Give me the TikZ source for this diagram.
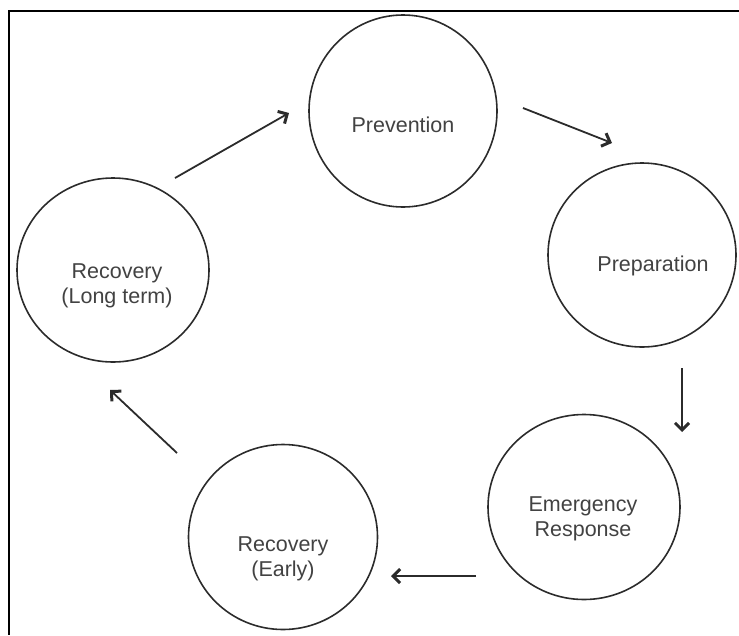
\documentclass[tikz,border=0pt]{standalone}
\usepackage{fontspec}
\setmainfont{Liberation Sans}
\usetikzlibrary{arrows.meta,shapes.geometric}
\definecolor{ink}{HTML}{2B2B2B}
\definecolor{txt}{HTML}{424242}
\begin{document}
\begin{tikzpicture}[x=1pt,y=-1pt,
  phase/.style={draw=ink,line width=1.6pt,ellipse,inner sep=0pt},
  caption/.style={text=txt,font=\fontsize{21.5}{25.5}\selectfont,align=center,inner sep=0pt},
  flow/.style={draw=ink,line width=1.8pt,
    -{Straight Barb[length=7pt,width=14pt,line width=3pt]}}]
\useasboundingbox (0,0) rectangle (739,635);
% frame edges
\draw[line width=2pt] (739,11) -- (9,11) -- (9,635);

% the five phases of the cycle
\node[phase,minimum width=188pt,minimum height=192pt] (prev) at (403,111) {};
\node[phase,minimum width=188pt,minimum height=184pt] (prep) at (642,255) {};
\node[phase,minimum width=192pt,minimum height=185pt] (resp) at (584,507) {};
\node[phase,minimum width=189pt,minimum height=185pt] (early) at (283,537) {};
\node[phase,minimum width=192pt,minimum height=184pt] (long) at (113,270) {};

\node[caption] (prevtext) at (403,125) {Prevention};
\node[caption] (preptext) at (653,266) {Preparation};
\node[caption] (resptext) at (583,519) {Emergency\\Response};
\node[caption] (earlytext) at (283,559) {Recovery\\(Early)};
\node[caption] (longtext) at (117,286) {Recovery\\(Long term)};

% arrow end points between the phases
\coordinate (a1) at (175,178);  \coordinate (b1) at (289,113);
\coordinate (a2) at (523,108);  \coordinate (b2) at (612,143);
\coordinate (a3) at (682,368);  \coordinate (b3) at (682,432);
\coordinate (a4) at (476,576);  \coordinate (b4) at (391,576);
\coordinate (a5) at (177,453);  \coordinate (b5) at (110,390);

\draw[flow] (a1) -- (b1);
\draw[flow] (a2) -- (b2);
\draw[flow] (a3) -- (b3);
\draw[flow] (a4) -- (b4);
\draw[flow] (a5) -- (b5);
\end{tikzpicture}
\end{document}
